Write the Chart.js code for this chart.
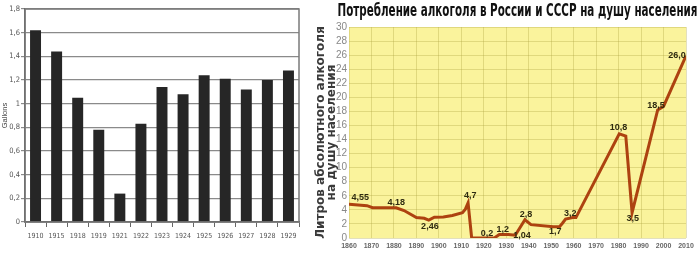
<!DOCTYPE html>
<html>
<head>
<meta charset="utf-8">
<script src="https://cdn.jsdelivr.net/npm/chart.js@4"></script>
<style>
	html, body { margin: 0; padding: 0; background: #fff; }
	#left { position: absolute; left: 0; top: 0; width: 305px; height: 258px; }
	#right { position: absolute; left: 305px; top: 0; width: 395px; height: 258px; }
</style>
</head>
<body>
<div id="left"><canvas id="gallons"></canvas></div>
<div id="right"><canvas id="litres"></canvas></div>
<script>
// left chart: gallons per capita
var barYears = ['1910', '1915', '1918', '1919', '1921', '1922', '1923', '1924', '1925', '1926', '1927', '1928', '1929'];
var barGallons = [1.62, 1.44, 1.05, 0.78, 0.24, 0.83, 1.14, 1.08, 1.24, 1.21, 1.12, 1.20, 1.28];

// right chart: litres of pure alcohol per head
var heading = 'Потребление алкоголя в России и СССР на душу населения';
var lineYears = [1860, 1868, 1870.5, 1881, 1884.5, 1890, 1893.5, 1895.5, 1898, 1902, 1906, 1910.5, 1911.8, 1913,
	1914.6, 1924.7, 1926.9, 1931, 1934, 1938.3, 1941, 1951, 1953.7, 1955, 1956.4, 1959.6, 1961,
	1980.3, 1983.2, 1986, 1997.4, 2000, 2010];
var lineLitres = [4.8, 4.6, 4.3, 4.3, 3.9, 2.9, 2.8, 2.55, 2.95, 3.0, 3.2, 3.6, 4.1, 5.0,
	0, 0, 0.5, 0.5, 0.4, 2.6, 1.9, 1.6, 1.6, 2.1, 2.7, 2.9, 2.9,
	14.8, 14.5, 3.6, 18.2, 18.7, 25.9];

var noteTexts = ['4,55', '4,18', '2,46', '4,7', '0,2', '1,2', '1,04', '2,8', '1,7', '3,2', '10,8', '3,5', '18,5', '26,0'];
var noteYears = [1865, 1881, 1896, 1914, 1921.4, 1928.4, 1937, 1938.8, 1951.8, 1958.5, 1980, 1986.3, 1996.6, 2006];
var noteLitres = [5.8, 5.0, 1.7, 6.0, 0.7, 1.25, 0.3, 3.4, 0.9, 3.45, 15.7, 2.7, 18.9, 25.9];

var narrow = '"Liberation Sans Narrow", "DejaVu Sans Condensed", sans-serif';
var sans = '"Liberation Sans", Arial, sans-serif';
var wide = '"DejaVu Sans", Verdana, sans-serif';

function comma(v) {
	return String(Math.round(v * 10) / 10).replace('.', ',');
}

var framePlugin = {
	id: 'frame',
	afterDraw: function(chart) {
		var a = chart.chartArea;
		var ctx = chart.ctx;
		ctx.save();
		ctx.strokeStyle = '#7a7a7a';
		ctx.lineWidth = 1.5;
		ctx.strokeRect(a.left, a.top, a.right - a.left, a.bottom - a.top);
		ctx.restore();
	}
};

var gallonsChart = new Chart(document.getElementById('gallons'), {
	type: 'bar',
	data: {
		labels: barYears,
		datasets: [{
			data: barGallons,
			backgroundColor: '#262626',
			categoryPercentage: 1,
			barPercentage: 0.52
		}]
	},
	options: {
		responsive: true,
		maintainAspectRatio: false,
		animation: false,
		layout: { padding: { top: 9, right: 6, left: 0, bottom: 0 } },
		plugins: { legend: { display: false }, tooltip: { enabled: false } },
		scales: {
			x: {
				grid: { offset: true, drawOnChartArea: false, drawTicks: true, tickLength: 5, color: '#666' },
				border: { color: '#555', width: 1.5 },
				ticks: { color: '#555', font: { family: narrow, size: 7 }, padding: 5, maxRotation: 0 },
				afterFit: function(scale) { scale.height = 36; }
			},
			y: {
				min: 0,
				max: 1.8,
				ticks: { stepSize: 0.2, autoSkip: false, color: '#555', font: { family: narrow, size: 7.5 }, padding: 1,
					callback: function(v) { return comma(v); } },
				grid: { color: '#8a8a8a', lineWidth: 1.2, tickLength: 4 },
				border: { color: '#555', width: 1.5 },
				title: { display: true, text: 'Gallons', color: '#444', font: { family: sans, size: 7.5 }, padding: 0 },
				afterFit: function(scale) { scale.width = 25; }
			}
		}
	},
	plugins: [framePlugin]
});

var yellowPlugin = {
	id: 'yellow',
	beforeDraw: function(chart) {
		var a = chart.chartArea;
		var ctx = chart.ctx;
		ctx.save();
		ctx.fillStyle = '#faf39c';
		ctx.fillRect(a.left, a.top, a.right - a.left, a.bottom - a.top);
		ctx.restore();
	}
};

// heading centred over the plot, squeezed like a narrow face
var headingPlugin = {
	id: 'heading',
	afterDraw: function(chart) {
		var a = chart.chartArea;
		var ctx = chart.ctx;
		ctx.save();
		ctx.font = 'bold 17px ' + narrow;
		ctx.fillStyle = '#111';
		ctx.textAlign = 'center';
		ctx.textBaseline = 'middle';
		ctx.fillText(heading, (a.left + a.right) / 2, 12, 360);
		ctx.restore();
	}
};

var notesPlugin = {
	id: 'notes',
	afterDatasetsDraw: function(chart) {
		var ctx = chart.ctx;
		var xs = chart.scales.x;
		var ys = chart.scales.y;
		ctx.save();
		ctx.font = 'bold 9px ' + sans;
		ctx.fillStyle = '#2e2a10';
		ctx.textAlign = 'center';
		ctx.textBaseline = 'middle';
		for (var i = 0; i < noteTexts.length; i++) {
			ctx.fillText(noteTexts[i], xs.getPixelForValue(noteYears[i]), ys.getPixelForValue(noteLitres[i]));
		}
		ctx.restore();
	}
};

var points = lineYears.map(function(y, i) {
	return { x: y, y: lineLitres[i] };
});

var litresChart = new Chart(document.getElementById('litres'), {
	type: 'line',
	data: {
		datasets: [{
			data: points,
			borderColor: '#ad4210',
			borderWidth: 3,
			pointRadius: 0,
			tension: 0,
			fill: false
		}]
	},
	options: {
		responsive: true,
		maintainAspectRatio: false,
		animation: false,
		layout: { padding: { top: 27, right: 14, left: 0, bottom: 0 } },
		plugins: {
			legend: { display: false },
			tooltip: { enabled: false }
		},
		scales: {
			x: {
				type: 'linear',
				min: 1860,
				max: 2010,
				ticks: { stepSize: 10, color: '#666', font: { family: sans, size: 7, weight: 'bold' }, padding: 4, maxRotation: 0,
					callback: function(v) { return String(v); } },
				grid: { color: 'rgba(175,165,70,0.35)', drawTicks: false },
				border: { display: false },
				afterFit: function(scale) { scale.height = 20; }
			},
			y: {
				min: 0,
				max: 30,
				ticks: { stepSize: 2, autoSkip: false, color: '#888', font: { family: sans, size: 10 }, padding: 2 },
				grid: { color: 'rgba(175,165,70,0.35)', drawTicks: false },
				border: { display: false },
				title: {
					display: true,
					text: ['Литров абсолютного алкоголя', 'на душу населения'],
					color: '#3a3a3a',
					font: { family: wide, size: 12, weight: 'bold', lineHeight: 0.92 },
					padding: { top: 10.5, bottom: 0 }
				},
				afterFit: function(scale) { scale.width = 44; }
			}
		}
	},
	plugins: [yellowPlugin, headingPlugin, notesPlugin]
});
</script>
</body>
</html>
